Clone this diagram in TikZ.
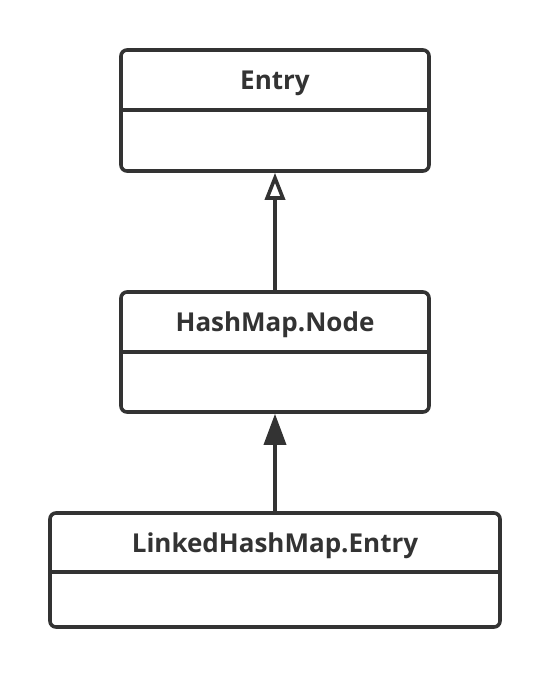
\documentclass[tikz,border=0pt]{standalone}
\usepackage{fontspec}
\setmainfont{Open Sans}
\usetikzlibrary{arrows.meta}
\definecolor{ink}{HTML}{333333}
\tikzset{
  cls/.style={draw=ink, line width=3.6pt, rounded corners=6pt, inner sep=0pt, fill=white},
  title/.style={text=ink, font=\fontsize{26}{30}\selectfont\bfseries, inner sep=0pt, anchor=center},
  sep/.style={draw=ink, line width=3.6pt},
  inherit/.style={draw=ink, line width=3.6pt, -{Triangle[open, width=20pt, length=27pt, line width=3.6pt]}},
  assoc/.style={draw=ink, line width=3.6pt, -{Triangle[width=22pt, length=31pt]}}
}
\begin{document}
\begin{tikzpicture}[x=1pt, y=-1pt]
\useasboundingbox (0,0) rectangle (550,678);
% Entry
\node[cls, minimum width=308pt, minimum height=121pt] (e) at (275,110.5) {};
\node[title] (et) at (275,83) {Entry};
\coordinate (ed) at (275,110);
\draw[sep] (e.west |- ed) -- (e.east |- ed);
% HashMap.Node
\node[cls, minimum width=308pt, minimum height=120pt] (h) at (275,352) {};
\node[title] (ht) at (275,325) {HashMap.Node};
\coordinate (hd) at (275,352);
\draw[sep] (h.west |- hd) -- (h.east |- hd);
% LinkedHashMap.Entry
\node[cls, minimum width=450pt, minimum height=114pt] (l) at (275,570) {};
\node[title] (lt) at (275,546) {LinkedHashMap.Entry};
\coordinate (ld) at (275,572);
\draw[sep] (l.west |- ld) -- (l.east |- ld);
% connectors
\draw[inherit] (h.north) -- (e.south);
\draw[assoc] (l.north) -- (h.south);
\end{tikzpicture}
\end{document}
